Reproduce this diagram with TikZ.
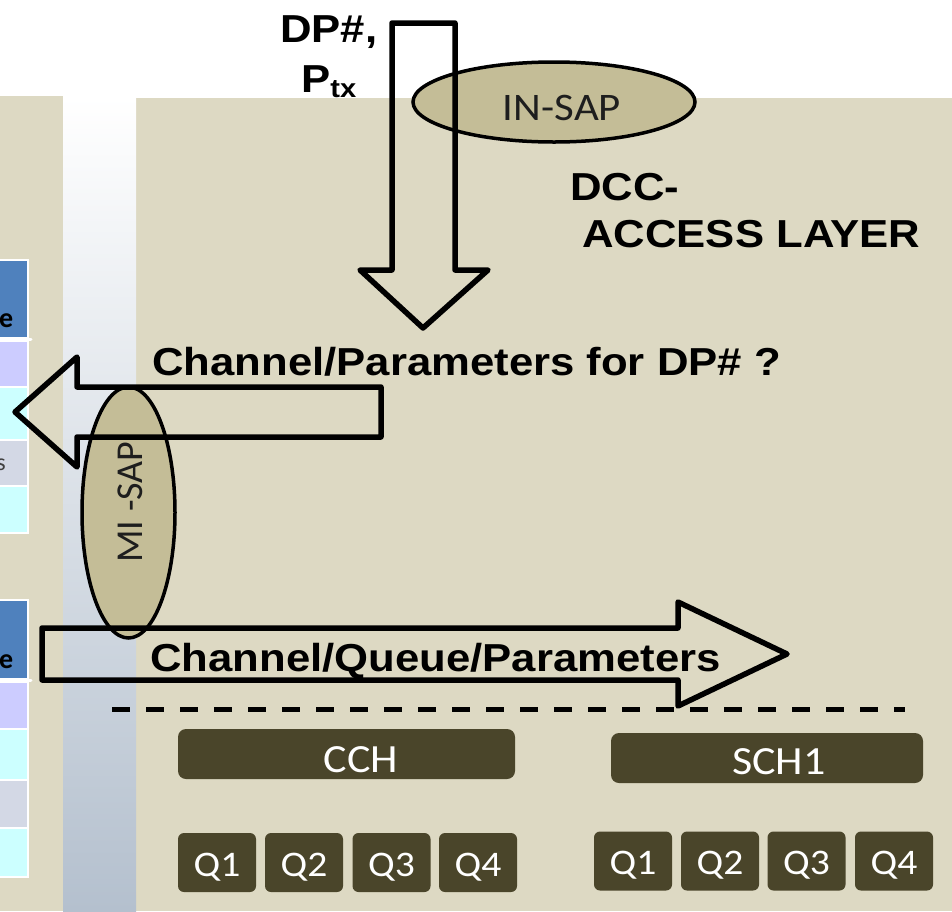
\documentclass[tikz,border=0pt]{standalone}
\usepackage{fontspec}
\setmainfont{Carlito}
\newfontfamily\arialb[FakeStretch=1.12]{Liberation Sans Bold}
\newfontfamily\calibs[FakeStretch=1.1]{Carlito}
\usetikzlibrary{shapes.geometric}
\definecolor{tanbg}{HTML}{DDD9C3}
\definecolor{tanmid}{HTML}{C4BD97}
\definecolor{tandark}{HTML}{4A452A}
\definecolor{hdrblue}{HTML}{4F81BD}
\definecolor{lavrow}{HTML}{CCCCFF}
\definecolor{cyanrow}{HTML}{CCFFFF}
\definecolor{grayrow}{HTML}{D3D8E5}
\definecolor{colbot}{HTML}{B4C0CE}
\definecolor{sapink}{HTML}{1E1E1E}
\tikzset{
  btext/.style={font=\arialb\fontsize{39}{40}\selectfont, inner sep=0pt, text=black},
  saptext/.style={inner sep=0pt, text=sapink},
  sapell/.style={ellipse, draw=black, line width=3.5pt, fill=tanmid, inner sep=0pt},
  blockarrow/.style={draw=black, line width=5.5pt, line join=round},
  chbox/.style={fill=tandark, rounded corners=8pt, inner sep=0pt},
  chtext/.style={font=\calibs\fontsize{40}{42}\selectfont, text=white, inner sep=0pt},
  qbox/.style={fill=tandark, rounded corners=6pt, inner sep=0pt, minimum width=78pt,
    minimum height=59pt, text height=27pt, text depth=0pt,
    font=\calibs\fontsize{36}{38}\selectfont, text=white},
  rowcell/.style={draw=white, line width=2pt},
}
\begin{document}
\begin{tikzpicture}[x=1pt,y=-1pt]
\useasboundingbox (0,0) rectangle (952,911);
\fill[white] (0,0) rectangle (952,911);
% panels
\fill[tanbg] (0,96) rectangle (63,911);
\fill[tanbg] (136,98) rectangle (952,911);
\shade[top color=white, bottom color=colbot] (63,96) rectangle (136,911);
% left table 1
\filldraw[rowcell, fill=hdrblue] (-2,260) rectangle (28,338);
\filldraw[rowcell, fill=lavrow] (-2,341) rectangle (28,387);
\filldraw[rowcell, fill=cyanrow] (-2,387) rectangle (28,440);
\filldraw[rowcell, fill=grayrow] (-2,440) rectangle (28,486);
\filldraw[rowcell, fill=cyanrow] (-2,486) rectangle (28,533);
\draw[white, line width=3pt, line cap=round] (0,339.5) -- (31,339.5);
\node[anchor=base east, inner sep=0pt, font=\bfseries\fontsize{28}{28}\selectfont] (e1) at (13.5,327) {e};
\node[anchor=base east, inner sep=0pt, text=black!75, font=\fontsize{24}{24}\selectfont] (s1) at (6,470) {s};
% left table 2
\filldraw[rowcell, fill=hdrblue] (-2,600) rectangle (28,679);
\filldraw[rowcell, fill=lavrow] (-2,682) rectangle (28,729);
\filldraw[rowcell, fill=cyanrow] (-2,729) rectangle (28,780);
\filldraw[rowcell, fill=grayrow] (-2,780) rectangle (28,828);
\filldraw[rowcell, fill=cyanrow] (-2,828) rectangle (28,877);
\draw[white, line width=3pt, line cap=round] (0,680.5) -- (31,680.5);
\node[anchor=base east, inner sep=0pt, font=\bfseries\fontsize{28}{28}\selectfont] (e2) at (13.5,668) {e};
% SAP ellipses
\node[sapell, minimum width=282pt, minimum height=80pt] (insap) at (554,102) {};
\node[saptext, anchor=base, font=\calibs\fontsize{39}{40}\selectfont] (insaptext) at (562,120) {IN-SAP};
\node[sapell, minimum width=93pt, minimum height=251pt] (misap) at (128.5,512.5) {};
\node[saptext, rotate=90, font=\fontsize{38}{40}\selectfont] (misaptext) at (130,502) {MI -SAP};
% block arrows
\draw[blockarrow] (392,23) -- (455,23) -- (455,270) -- (488,270) -- (423,328) -- (360,270) -- (392,270) -- cycle;
\draw[blockarrow] (381,387) -- (77,387) -- (77,357) -- (15,412) -- (77,467) -- (77,437) -- (381,437) -- cycle;
\draw[blockarrow] (42,628) -- (678,628) -- (678,602) -- (787,654) -- (678,706) -- (678,680) -- (42,680) -- cycle;
% dashed separator
\draw[line width=5pt, dash pattern=on 18pt off 16pt] (112,709) -- (905,709);
% texts
\node[btext, anchor=base west] (dp) at (280,42) {DP\#,};
\node[btext, anchor=base west] (ptx) at (301,92) {P\raisebox{-5pt}{\fontsize{26}{26}\selectfont tx}};
\node[btext, anchor=base west] (dcc) at (570,200) {DCC-};
\node[btext, anchor=base west] (acc) at (582,247) {ACCESS LAYER};
\node[btext, anchor=base west] (chp) at (152,375) {Channel/Parameters for DP\# ?};
\node[btext, anchor=base west] (chq) at (150,671) {Channel/Queue/Parameters};
% channel boxes
\node[chbox, minimum width=337pt, minimum height=50pt] (cch) at (346.5,754) {};
\node[chtext, anchor=base] (cchtext) at (361,772) {CCH};
\node[chbox, minimum width=312pt, minimum height=50pt] (sch) at (767,758) {};
\node[chtext, anchor=base] (schtext) at (779,774) {SCH1};
% queues
\node[qbox] (cq1) at (217,862.5) {Q1};
\node[qbox] (cq2) at (304,862.5) {Q2};
\node[qbox] (cq3) at (391.5,862.5) {Q3};
\node[qbox] (cq4) at (478,862.5) {Q4};
\node[qbox] (sq1) at (633,861) {Q1};
\node[qbox] (sq2) at (720,861) {Q2};
\node[qbox] (sq3) at (806.5,861) {Q3};
\node[qbox] (sq4) at (894,861) {Q4};
\end{tikzpicture}
\end{document}
